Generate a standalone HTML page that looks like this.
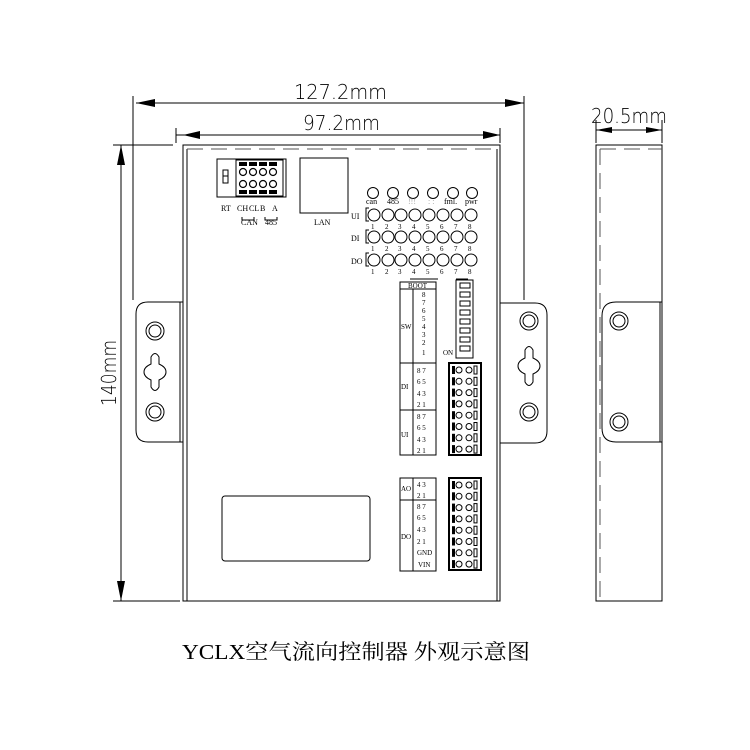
<!DOCTYPE html>
<html><head><meta charset="utf-8"><style>html,body{margin:0;padding:0;background:#fff}svg{display:block}</style></head>
<body>
<svg width="750" height="750" viewBox="0 0 750 750" xmlns="http://www.w3.org/2000/svg" font-family="'Liberation Serif','Noto Serif CJK SC',serif">
<g fill="none" stroke="#000" stroke-width="1">
<!-- dimension lines -->
<line x1="133" y1="96" x2="133" y2="300"/>
<line x1="524" y1="96" x2="524" y2="300"/>
<line x1="136" y1="103" x2="524" y2="103"/>
<line x1="176" y1="128" x2="176" y2="143"/>
<line x1="500" y1="128" x2="500" y2="143"/>
<line x1="176" y1="135" x2="500" y2="135"/>
<line x1="113" y1="145" x2="173" y2="145"/>
<line x1="113" y1="601" x2="180" y2="601"/>
<line x1="121" y1="145" x2="121" y2="601"/>
<line x1="596" y1="120" x2="596" y2="143"/>
<line x1="662" y1="120" x2="662" y2="143"/>
<line x1="596" y1="130" x2="662" y2="130"/>
<!-- main body -->
<rect x="183" y="145" width="317" height="456"/>
<line x1="187" y1="149" x2="187" y2="601"/>
<line x1="497" y1="149" x2="497" y2="601"/>
<line x1="187" y1="149" x2="497" y2="149" stroke-dasharray="16,8" stroke="#555"/>
<!-- ears -->
<path d="M183 302 H148 Q136 302 136 314 V430 Q136 442 148 442 H183"/>
<line x1="180" y1="302" x2="180" y2="442"/>
<path d="M500 303 H535 Q547 303 547 315 V431 Q547 443 535 443 H500"/>
<circle cx="155" cy="331" r="9"/><circle cx="155" cy="331" r="6"/>
<circle cx="155" cy="412" r="9"/><circle cx="155" cy="412" r="6"/>
<circle cx="529" cy="321" r="9"/><circle cx="529" cy="321" r="6"/>
<circle cx="529" cy="412" r="9"/><circle cx="529" cy="412" r="6"/>
<path d="M151 357 Q155 350 159 357 V364 Q166 367 166 372 Q166 377 159 380 V387 Q155 394 151 387 V380 Q144 377 144 372 Q144 367 151 364 Z"/>
<path d="M525 350 Q529 343 533 350 V358 Q540 361 540 366 Q540 371 533 374 V382 Q529 389 525 382 V374 Q518 371 518 366 Q518 361 525 358 Z"/>
<!-- side view -->
<rect x="596" y="145" width="66" height="456"/>
<line x1="600" y1="149" x2="600" y2="598" stroke-dasharray="16,8" stroke="#555"/>
<line x1="600" y1="149" x2="662" y2="149" stroke-dasharray="16,8" stroke="#555"/>
<path d="M662 302 H616 Q602 302 602 316 V428 Q602 442 616 442 H662"/>
<line x1="660" y1="302" x2="660" y2="442"/>
<circle cx="619" cy="321" r="9"/><circle cx="619" cy="321" r="6"/>
<circle cx="619" cy="422" r="9"/><circle cx="619" cy="422" r="6"/>
<!-- connector -->
<rect x="217" y="159" width="69" height="38"/>
<rect x="236" y="160" width="47" height="36"/>
<rect x="223" y="170" width="5" height="13"/>
<line x1="223" y1="176" x2="228" y2="176"/>
<g stroke-width="1.2">
<circle cx="243" cy="172" r="3.5"/><circle cx="253" cy="172" r="3.5"/><circle cx="263" cy="172" r="3.5"/><circle cx="273" cy="172" r="3.5"/>
<circle cx="243" cy="184" r="3.5"/><circle cx="253" cy="184" r="3.5"/><circle cx="263" cy="184" r="3.5"/><circle cx="273" cy="184" r="3.5"/>
</g>
<path d="M242 217 V220 H254 V217 M265 217 V220 H277 V217"/>
<!-- LAN -->
<rect x="300" y="158" width="48" height="55"/>
<!-- LEDs -->
<g>
<circle cx="373" cy="193" r="5.5"/><circle cx="393" cy="193" r="5.5"/><circle cx="413" cy="193" r="5.5"/><circle cx="433" cy="193" r="5.5"/><circle cx="453" cy="193" r="5.5"/><circle cx="472" cy="193" r="5.5"/>
</g>
<g id="row">
<circle cx="374" cy="215" r="6"/><circle cx="388" cy="215" r="6"/><circle cx="401" cy="215" r="6"/><circle cx="415" cy="215" r="6"/><circle cx="429" cy="215" r="6"/><circle cx="443" cy="215" r="6"/><circle cx="457" cy="215" r="6"/><circle cx="471" cy="215" r="6"/>
</g>
<use href="#row" y="22"/>
<use href="#row" y="45"/>
<path d="M369 208 H366 V221 H369 M369 230 H366 V243 H369 M369 253 H366 V266 H369"/>
<line x1="410" y1="279" x2="438" y2="279"/><line x1="456" y1="279" x2="468" y2="279"/>
<!-- label tables -->
<rect x="400" y="282" width="36" height="173"/>
<line x1="400" y1="289" x2="436" y2="289"/>
<line x1="413" y1="289" x2="413" y2="455"/>
<line x1="400" y1="363" x2="436" y2="363"/>
<line x1="400" y1="410" x2="436" y2="410"/>
<rect x="400" y="478" width="36" height="93"/>
<line x1="413" y1="478" x2="413" y2="571"/>
<line x1="400" y1="500" x2="436" y2="500"/>
<!-- dip switch -->
<rect x="456" y="280" width="17" height="78"/>
<!-- lower rect -->
<rect x="222" y="496" width="148" height="65" rx="3"/>
</g>
<!-- dip cells -->
<g fill="none" stroke="#000">
<rect x="460" y="283" width="10" height="5"/><rect x="460" y="292" width="10" height="5"/><rect x="460" y="301" width="10" height="5"/><rect x="460" y="310" width="10" height="5"/><rect x="460" y="319" width="10" height="5"/><rect x="460" y="328" width="10" height="5"/><rect x="460" y="337" width="10" height="5"/><rect x="460" y="346" width="10" height="5"/>
</g>
<!-- connector bars -->
<g fill="#000">
<rect x="239" y="162" width="8" height="4"/><rect x="249" y="162" width="8" height="4"/><rect x="259" y="162" width="8" height="4"/><rect x="269" y="162" width="8" height="4"/>
<rect x="239" y="190" width="8" height="4"/><rect x="249" y="190" width="8" height="4"/><rect x="259" y="190" width="8" height="4"/><rect x="269" y="190" width="8" height="4"/>
<!-- arrowheads -->
<polygon points="136,103 155,99 155,107"/><polygon points="524,103 505,99 505,107"/>
<polygon points="183,135 200,131 200,139"/><polygon points="500,135 483,131 483,139"/>
<polygon points="121,145 117,165 125,165"/><polygon points="121,601 117,581 125,581"/>
<polygon points="596,130 612,127 612,133"/><polygon points="662,130 646,127 646,133"/>
</g>
<!-- terminal blocks -->
<g id="tb">
<rect x="449" y="363" width="32" height="92" fill="none" stroke="#000" stroke-width="2"/>
<g id="tr"><rect x="452" y="366" width="3" height="8" fill="#000"/><circle cx="459" cy="370" r="3" fill="none" stroke="#000"/><circle cx="469" cy="370" r="3" fill="none" stroke="#000"/><rect x="474" y="366" width="3" height="8" fill="none" stroke="#000"/></g>
<use href="#tr" y="11.3"/><use href="#tr" y="22.6"/><use href="#tr" y="33.9"/><use href="#tr" y="45.2"/><use href="#tr" y="56.5"/><use href="#tr" y="67.8"/><use href="#tr" y="79.1"/>
</g>
<use href="#tb" y="115" transform="translate(0,0)"/>
<!-- text -->
<g font-size="8" fill="#000">
<text x="221" y="211">RT</text><text x="237" y="211">CH</text><text x="249" y="211">CL</text><text x="260" y="211">B</text><text x="272" y="211">A</text>
<text x="241" y="225">CAN</text><text x="265" y="225">485</text>
<text x="314" y="225">LAN</text>
<text x="366" y="204">can</text><text x="387" y="204">485</text><text x="408" y="204" fill="#aaa">!!!</text><text x="428" y="204" fill="#aaa">: :</text><text x="444" y="204">fml.</text><text x="465" y="204">pwr</text>
<text x="351" y="219">UI</text><text x="351" y="241">DI</text><text x="351" y="264">DO</text>
<g font-size="7">
<text x="371" y="229">1</text><text x="385" y="229">2</text><text x="398" y="229">3</text><text x="412" y="229">4</text><text x="426" y="229">5</text><text x="440" y="229">6</text><text x="454" y="229">7</text><text x="468" y="229">8</text>
<text x="371" y="251">1</text><text x="385" y="251">2</text><text x="398" y="251">3</text><text x="412" y="251">4</text><text x="426" y="251">5</text><text x="440" y="251">6</text><text x="454" y="251">7</text><text x="468" y="251">8</text>
<text x="371" y="274">1</text><text x="385" y="274">2</text><text x="398" y="274">3</text><text x="412" y="274">4</text><text x="426" y="274">5</text><text x="440" y="274">6</text><text x="454" y="274">7</text><text x="468" y="274">8</text>
<text x="408" y="288">BOOT</text>
<text x="422" y="297">8</text><text x="422" y="305">7</text><text x="422" y="313">6</text><text x="422" y="321">5</text><text x="422" y="329">4</text><text x="422" y="337">3</text><text x="422" y="345">2</text><text x="422" y="355">1</text>
<text x="401" y="329">SW</text><text x="443" y="355">ON</text>
<text x="401" y="389">DI</text><text x="401" y="437">UI</text>
<text x="417" y="373">8 7</text><text x="417" y="384">6 5</text><text x="417" y="396">4 3</text><text x="417" y="407">2 1</text>
<text x="417" y="419">8 7</text><text x="417" y="430">6 5</text><text x="417" y="442">4 3</text><text x="417" y="453">2 1</text>
<text x="401" y="491">AO</text><text x="401" y="539">DO</text>
<text x="417" y="487">4 3</text><text x="417" y="498">2 1</text>
<text x="417" y="509">8 7</text><text x="417" y="520">6 5</text><text x="417" y="532">4 3</text><text x="417" y="544">2 1</text>
<text x="417" y="555">GND</text><text x="418" y="567">VIN</text>
</g>
</g>
<g font-family="'DejaVu Sans','Liberation Sans',sans-serif" font-weight="200" fill="#000" font-size="20">
<text x="294" y="99" textLength="93" lengthAdjust="spacingAndGlyphs">127.2mm</text>
<text x="303" y="130" textLength="77" lengthAdjust="spacingAndGlyphs">97.2mm</text>
<text x="591" y="123" textLength="76" lengthAdjust="spacingAndGlyphs">20.5mm</text>
<text transform="translate(116,406) rotate(-90)" textLength="66" lengthAdjust="spacingAndGlyphs">140mm</text>
</g>
<text x="182" y="659" font-size="21" textLength="348" lengthAdjust="spacingAndGlyphs" font-family="'Liberation Serif','Noto Serif CJK SC',serif">YCLX空气流向控制器 外观示意图</text>
</svg>
</body></html>
